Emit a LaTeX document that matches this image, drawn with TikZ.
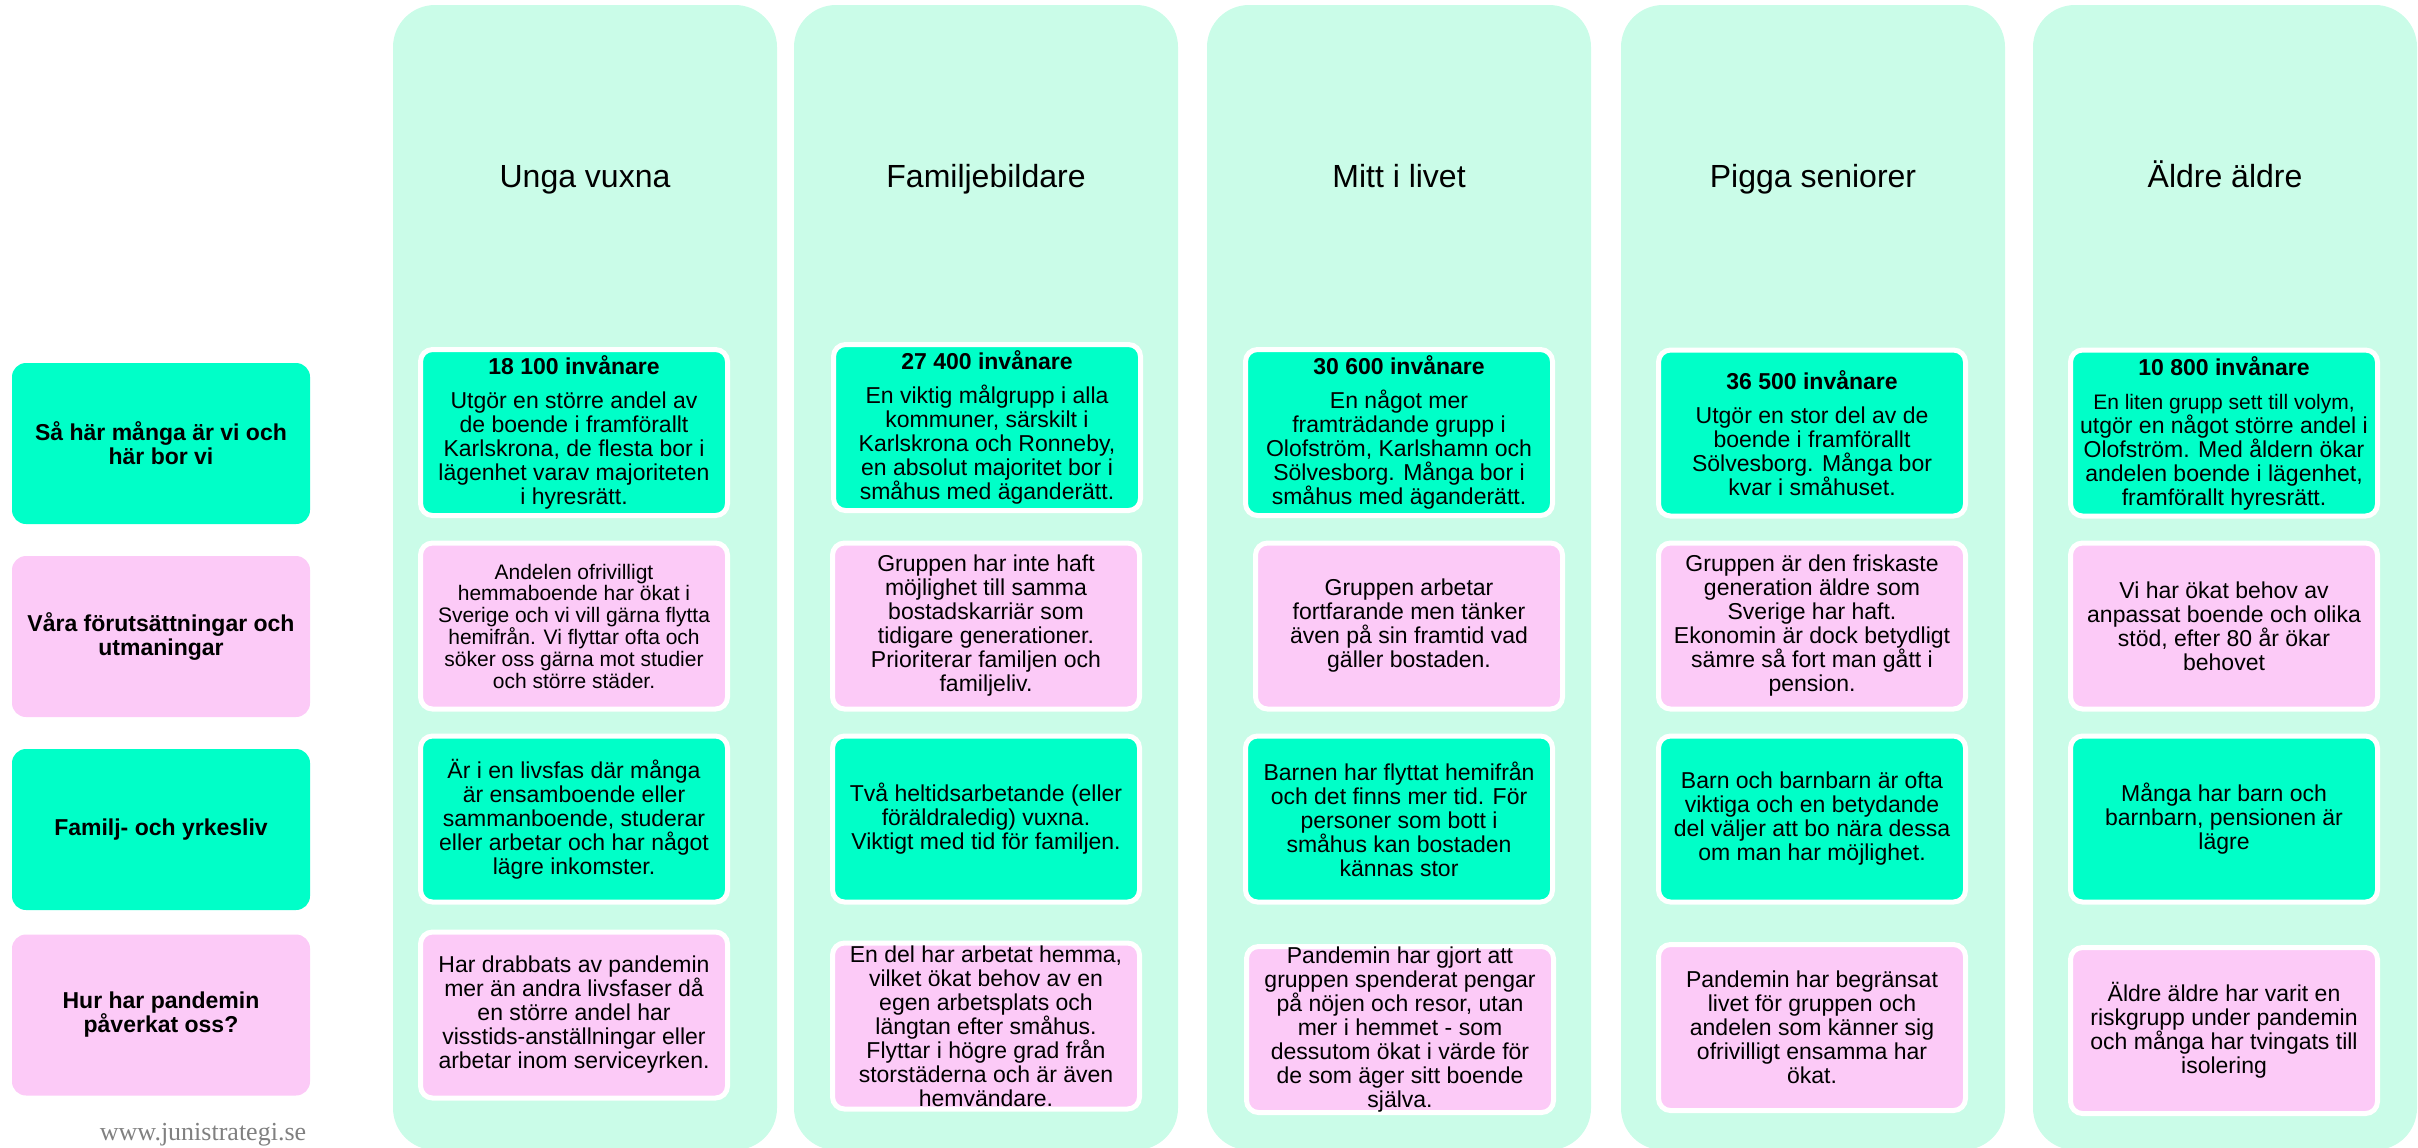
\documentclass[tikz,border=0pt]{standalone}
\usepackage{fontspec}
\setmainfont{Liberation Sans}
\newfontfamily\urlfont{Liberation Serif}
\definecolor{mintbg}{RGB}{202,252,232}
\definecolor{mintbox}{RGB}{0,255,200}
\definecolor{pinkbox}{RGB}{252,202,247}
\definecolor{urlgray}{RGB}{128,128,128}

\begin{document}
\begin{tikzpicture}[x=0.5pt,y=-0.5pt,
    every node/.style={inner sep=0pt, align=center, font=\fontsize{11.5}{12}\selectfont},
    lifecol/.style={fill=mintbg, rounded corners=21pt, minimum width=192pt, minimum height=572.5pt},
    colhead/.style={anchor=base, font=\fontsize{16}{19}\selectfont},
    rowlabel/.style={rounded corners=7pt, minimum width=149pt, minimum height=80.5pt,
        font=\bfseries\fontsize{11.5}{12}\selectfont},
    cell/.style={draw=white, line width=2.5pt, rounded corners=6pt, minimum width=153.5pt, minimum height=83pt},
    small/.style={font=\fontsize{10.5}{10.9}\selectfont}]
    \useasboundingbox (0,0) rectangle (2418,1147);

    % columns
    \node[lifecol] (col1) at (585,577.5) {};
    \node[lifecol] (col2) at (986,577.5) {};
    \node[lifecol] (col3) at (1399,577.5) {};
    \node[lifecol] (col4) at (1813,577.5) {};
    \node[lifecol] (col5) at (2225,577.5) {};
    \node[colhead] (hd1) at (585,187) {Unga vuxna};
    \node[colhead] (hd2) at (986,187) {Familjebildare};
    \node[colhead] (hd3) at (1399,187) {Mitt i livet};
    \node[colhead] (hd4) at (1813,187) {Pigga seniorer};
    \node[colhead] (hd5) at (2225,187) {Äldre äldre};

    % row labels
    \node[rowlabel, fill=mintbox] (lab1) at (161,443.5) {Så här många är vi och\\här bor vi};
    \node[rowlabel, fill=pinkbox] (lab2) at (161,636.5) {Våra förutsättningar och\\utmaningar};
    \node[rowlabel, fill=mintbox] (lab3) at (161,829.5) {Familj- och yrkesliv};
    \node[rowlabel, fill=pinkbox] (lab4) at (161,1015) {Hur har pandemin\\påverkat oss?};

    % Unga vuxna
    \node[cell, fill=mintbox] (c11) at (574,432.5) {\textbf{18 100 invånare}\\[5pt]Utgör en större andel av\\de boende i framförallt\\Karlskrona, de flesta bor i\\lägenhet varav majoriteten\\i hyresrätt.};
    \node[cell, fill=pinkbox, small] (c12) at (574,626) {Andelen ofrivilligt\\hemmaboende har ökat i\\Sverige och vi vill gärna flytta\\hemifrån. Vi flyttar ofta och\\söker oss gärna mot studier\\och större städer.};
    \node[cell, fill=mintbox] (c13) at (574,819) {Är i en livsfas där många\\är ensamboende eller\\sammanboende, studerar\\eller arbetar och har något\\lägre inkomster.};
    \node[cell, fill=pinkbox] (c14) at (574,1015) {Har drabbats av pandemin\\mer än andra livsfaser då\\en större andel har\\visstids-anställningar eller\\arbetar inom serviceyrken.};

    % Familjebildare
    \node[cell, fill=mintbox] (c21) at (987,427.5) {\textbf{27 400 invånare}\\[5pt]En viktig målgrupp i alla\\kommuner, särskilt i\\Karlskrona och Ronneby,\\en absolut majoritet bor i\\småhus med äganderätt.};
    \node[cell, fill=pinkbox] (c22) at (986,626) {Gruppen har inte haft\\möjlighet till samma\\bostadskarriär som\\tidigare generationer.\\Prioriterar familjen och\\familjeliv.};
    \node[cell, fill=mintbox] (c23) at (986,819) {Två heltidsarbetande (eller\\föräldraledig) vuxna.\\Viktigt med tid för familjen.};
    \node[cell, fill=pinkbox] (c24) at (986,1026) {En del har arbetat hemma,\\vilket ökat behov av en\\egen arbetsplats och\\längtan efter småhus.\\Flyttar i högre grad från\\storstäderna och är även\\hemvändare.};

    % Mitt i livet
    \node[cell, fill=mintbox] (c31) at (1399,432.5) {\textbf{30 600 invånare}\\[5pt]En något mer\\framträdande grupp i\\Olofström, Karlshamn och\\Sölvesborg. Många bor i\\småhus med äganderätt.};
    \node[cell, fill=pinkbox] (c32) at (1409,626) {Gruppen arbetar\\fortfarande men tänker\\även på sin framtid vad\\gäller bostaden.};
    \node[cell, fill=mintbox] (c33) at (1399,819) {Barnen har flyttat hemifrån\\och det finns mer tid. För\\personer som bott i\\småhus kan bostaden\\kännas stor};
    \node[cell, fill=pinkbox] (c34) at (1400,1029.5) {Pandemin har gjort att\\gruppen spenderat pengar\\på nöjen och resor, utan\\mer i hemmet - som\\dessutom ökat i värde för\\de som äger sitt boende\\själva.};

    % Pigga seniorer
    \node[cell, fill=mintbox] (c41) at (1812,433) {\textbf{36 500 invånare}\\[5pt]Utgör en stor del av de\\boende i framförallt\\Sölvesborg. Många bor\\kvar i småhuset.};
    \node[cell, fill=pinkbox] (c42) at (1812,626) {Gruppen är den friskaste\\generation äldre som\\Sverige har haft.\\Ekonomin är dock betydligt\\sämre så fort man gått i\\pension.};
    \node[cell, fill=mintbox] (c43) at (1812,819) {Barn och barnbarn är ofta\\viktiga och en betydande\\del väljer att bo nära dessa\\om man har möjlighet.};
    \node[cell, fill=pinkbox] (c44) at (1812,1027.5) {Pandemin har begränsat\\livet för gruppen och\\andelen som känner sig\\ofrivilligt ensamma har\\ökat.};

    % Äldre äldre
    \node[cell, fill=mintbox] (c51) at (2224,433) {\textbf{10 800 invånare}\\[5pt]\fontsize{10.5}{11.3}\selectfont En liten grupp sett till volym,\\utgör en något större andel i\\Olofström. Med åldern ökar\\andelen boende i lägenhet,\\framförallt hyresrätt.};
    \node[cell, fill=pinkbox] (c52) at (2224,626) {Vi har ökat behov av\\anpassat boende och olika\\stöd, efter 80 år ökar\\behovet};
    \node[cell, fill=mintbox] (c53) at (2224,819) {Många har barn och\\barnbarn, pensionen är\\lägre};
    \node[cell, fill=pinkbox] (c54) at (2224,1030.5) {Äldre äldre har varit en\\riskgrupp under pandemin\\och många har tvingats till\\isolering};

    \node[anchor=base, text=urlgray, font=\urlfont\fontsize{13}{15}\selectfont] (web) at (203,1140) {www.junistrategi.se};
\end{tikzpicture}
\end{document}
